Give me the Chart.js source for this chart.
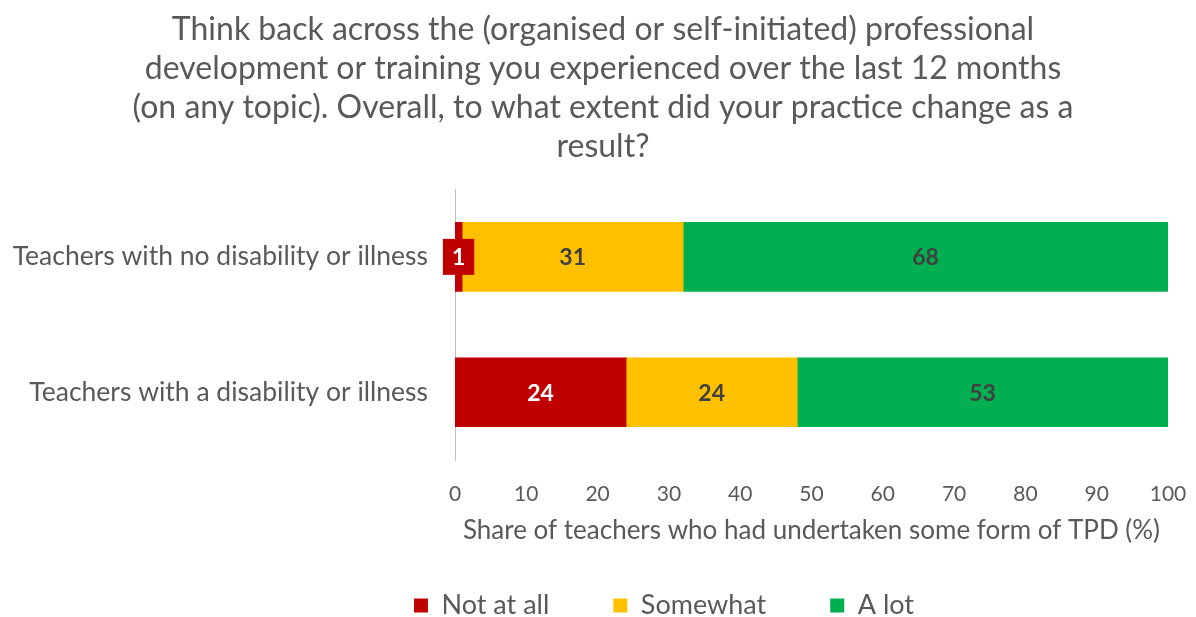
<!DOCTYPE html>
<html>
<head>
<meta charset="utf-8">
<script src="https://cdn.jsdelivr.net/npm/chart.js@4.4.1/dist/chart.umd.min.js"></script>
<style>
  html, body { margin: 0; padding: 0; background: #fff; }
  #wrap { width: 1196px; height: 617px; }
</style>
</head>
<body>
<div id="wrap"><canvas id="tpd-chart"></canvas></div>
<script>
const groups = ['Teachers with no disability or illness', 'Teachers with a disability or illness'];
const notAtAll = [1, 24];
const somewhat = [31, 24];
const aLot = [68, 53];
const xTicks = [0, 10, 20, 30, 40, 50, 60, 70, 80, 90, 100];

const titleLines = [
    'Think back across the (organised or self-initiated) professional',
    'development or training you experienced over the last 12 months',
    '(on any topic). Overall, to what extent did your practice change as a',
    'result?'
];

const FONT = 'Lato, "Open Sans", sans-serif';
const GREY = '#595959';

// value labels in the middle of each segment; narrow segments get a filled box
const segmentLabels = {
    id: 'segmentLabels',
    afterDatasetsDraw(chart) {
        const ctx = chart.ctx;
        ctx.save();
        ctx.font = `bold 23px ${FONT}`;
        ctx.textAlign = 'center';
        ctx.textBaseline = 'middle';
        chart.data.datasets.forEach((ds, i) => {
            const meta = chart.getDatasetMeta(i);
            meta.data.forEach((bar, j) => {
                const text = String(ds.data[j]);
                const w = ctx.measureText(text).width;
                const left = Math.min(bar.x, bar.base);
                const right = Math.min(Math.max(bar.x, bar.base), chart.chartArea.right);
                const cx = (left + right) / 2;
                if (right - left < w + 8) {
                    ctx.fillStyle = ds.backgroundColor;
                    ctx.fillRect(cx - w / 2 - 9, bar.y - 18, w + 18, 36);
                }
                ctx.fillStyle = ds.labelColor;
                ctx.fillText(text, cx, bar.y + 1);
            });
        });
        ctx.restore();
    }
};

// legend: keep its reserved height small and place the row by hand
const LEGEND_PAD = 64;
const legendPlace = {
    id: 'legendPlace',
    beforeLayout(chart) {
        const lg = chart.legend;
        if (!lg || lg._fitWrapped) return;
        const fit = lg.fit.bind(lg);
        lg.fit = () => { fit(); lg.height = 71; };
        lg._fitWrapped = true;
    },
    afterLayout(chart) {
        const lg = chart.legend;
        if (!lg) return;
        lg.left += 122;
        lg.top = 607 - LEGEND_PAD - 15;
        lg.adjustHitBoxes();
    }
};

new Chart(document.getElementById('tpd-chart'), {
    type: 'bar',
    data: {
        labels: groups,
        datasets: [
            { label: 'Not at all', data: notAtAll, backgroundColor: '#C00000', labelColor: '#ffffff' },
            { label: 'Somewhat', data: somewhat, backgroundColor: '#FFC000', labelColor: '#404040' },
            { label: 'A lot', data: aLot, backgroundColor: '#00B050', labelColor: '#404040' }
        ]
    },
    options: {
        indexAxis: 'y',
        responsive: true,
        maintainAspectRatio: false,
        animation: false,
        barThickness: 69,
        layout: { padding: { left: 10, right: 0, top: 0, bottom: 0 } },
        scales: {
            x: {
                stacked: true,
                min: 0,
                max: 100,
                afterBuildTicks: (scale) => { scale.ticks = xTicks.map(v => ({ value: v })); },
                afterFit: (scale) => { scale.height = 86; scale.paddingRight = 28; },
                grid: { display: false },
                border: { display: false },
                ticks: { color: GREY, font: { family: FONT, size: 21 }, padding: 14 },
                title: {
                    display: true,
                    text: 'Share of teachers who had undertaken some form of TPD (%)',
                    color: GREY,
                    font: { family: FONT, size: 26 },
                    padding: { top: 4, bottom: 0 }
                }
            },
            y: {
                stacked: true,
                afterFit: (scale) => { scale.width = 445; },
                grid: { display: false },
                border: { display: true, color: '#BFBFBF', width: 1 },
                ticks: { color: GREY, font: { family: FONT, size: 26.5 }, padding: 19 }
            }
        },
        plugins: {
            title: {
                display: true,
                text: titleLines,
                color: GREY,
                font: { family: FONT, size: 32, weight: 'normal', lineHeight: 1.22 },
                padding: { top: 10, bottom: 23 }
            },
            legend: {
                position: 'bottom',
                labels: {
                    color: GREY,
                    font: { family: FONT, size: 27 },
                    boxWidth: 14,
                    boxHeight: 14,
                    padding: LEGEND_PAD
                }
            },
            tooltip: { enabled: false }
        }
    },
    plugins: [segmentLabels, legendPlace]
});
</script>
</body>
</html>
